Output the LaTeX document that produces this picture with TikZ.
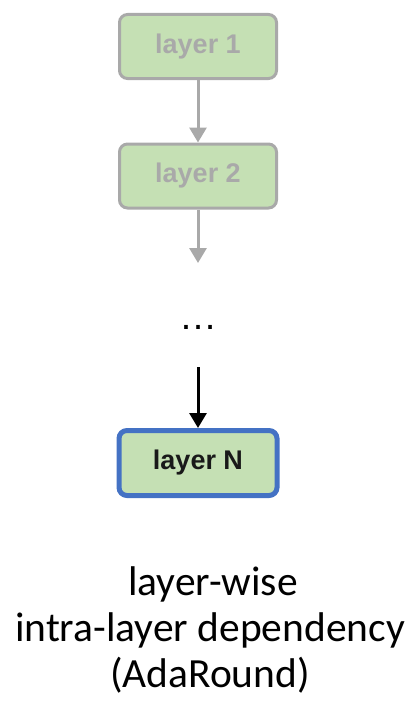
\documentclass[tikz,border=0pt]{standalone}
\usepackage{fontspec}
\setmainfont{Carlito}
\newfontfamily\boxfont{Liberation Sans}
\usetikzlibrary{arrows.meta}
\definecolor{layergreen}{HTML}{C5E0B4}
\definecolor{fadegray}{HTML}{A9A9A9}
\definecolor{layerblue}{HTML}{4472C4}
\begin{document}
\begin{tikzpicture}[x=1pt,y=1pt,
  layerbox/.style={rectangle, rounded corners=8pt, fill=layergreen,
    minimum width=157pt, minimum height=64pt, inner sep=0pt,
    font=\boxfont\bfseries\fontsize{27}{30}\selectfont},
  fadedbox/.style={layerbox, draw=fadegray, line width=3pt, text=fadegray},
  activebox/.style={layerbox, draw=layerblue, line width=5pt, text=black!90,
    minimum width=158pt, minimum height=65pt},
  flow/.style={line width=3pt, -{Triangle[width=17pt,length=15pt]}},
  caption/.style={anchor=base, inner sep=0pt, font=\fontsize{41.5}{46}\selectfont}]
\useasboundingbox (0,0) rectangle (418,-701);

\node[fadedbox] (l1) at (198,-46.5) {layer 1};
\node[fadedbox] (l2) at (198,-176) {layer 2};
\coordinate (gap) at (198,-263);
\node[anchor=base, inner sep=0pt, font=\boxfont\fontsize{38}{40}\selectfont] (dots) at (198,-329) {…};
\coordinate (into) at (198,-367);
\node[activebox] (ln) at (198,-463) {layer N};

\draw[flow, draw=fadegray, fill=fadegray] (l1) -- (l2);
\draw[flow, draw=fadegray, fill=fadegray] (l2) -- (gap);
\draw[flow, draw=black, fill=black] (into) -- (ln);

\node[caption] (c1) at (213,-595) {layer-wise};
\node[caption] (c2) at (210,-641) {intra-layer dependency};
\node[caption] (c3) at (210,-687) {(AdaRound)};
\end{tikzpicture}
\end{document}
